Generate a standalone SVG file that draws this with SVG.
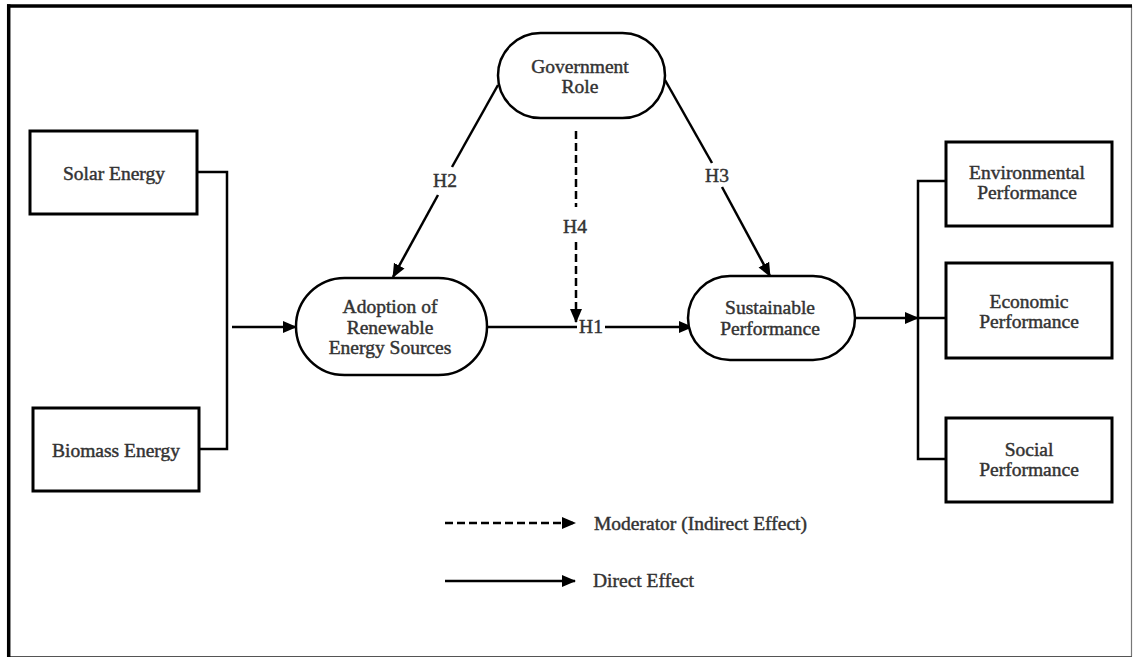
<svg xmlns="http://www.w3.org/2000/svg" width="1133" height="657" viewBox="0 0 1133 657">
  <style>
    .box { fill: #fff; stroke: #000; stroke-width: 3; }
    .pill { fill: #fff; stroke: #000; stroke-width: 2.5; }
    .ln { fill: none; stroke: #000; stroke-width: 2.5; }
    .dash { fill: none; stroke: #000; stroke-width: 2.5; stroke-dasharray: 8 4; }
    text { font-family: "Liberation Serif", "Times New Roman", serif; font-size: 19.5px; font-weight: normal; fill: #333; stroke: #333; stroke-width: 0.45; text-anchor: middle; }
    .lg { text-anchor: start; }
  </style>
  <defs>
    <marker id="ah" markerUnits="userSpaceOnUse" markerWidth="14" markerHeight="14" viewBox="0 0 14 14" refX="13" refY="7" orient="auto">
      <path d="M0,1 L14,7 L0,13 Z" fill="#000"/>
    </marker>
  </defs>

  <rect width="1133" height="657" fill="#fff"/>
  <!-- frame -->
  <g id="frame">
    <line x1="1131.5" y1="6" x2="1131.5" y2="656.5" stroke="#777" stroke-width="1.2"/>
    <line x1="7" y1="656.5" x2="1132" y2="656.5" stroke="#555" stroke-width="1.2"/>
    <line x1="7" y1="6" x2="1132" y2="6" stroke="#000" stroke-width="3.5"/>
    <line x1="8.7" y1="4.3" x2="8.7" y2="657" stroke="#000" stroke-width="3.5"/>
  </g>

  <g id="connectors">
    <!-- inputs bracket -->
    <polyline class="ln" points="197,172 227,172 227,449 199,449"/>
    <line class="ln" x1="232" y1="327" x2="296" y2="327" marker-end="url(#ah)"/>
    <!-- H2 -->
    <line class="ln" x1="498" y1="85" x2="452" y2="167"/>
    <line class="ln" x1="438" y1="195" x2="393" y2="277" marker-end="url(#ah)"/>
    <!-- H3 -->
    <line class="ln" x1="665" y1="80" x2="712" y2="163"/>
    <line class="ln" x1="722" y1="187" x2="770" y2="276" marker-end="url(#ah)"/>
    <!-- H4 -->
    <line class="dash" x1="576" y1="131" x2="576" y2="207"/>
    <line class="dash" x1="576" y1="242" x2="576" y2="322" marker-end="url(#ah)"/>
    <!-- H1 -->
    <line class="ln" x1="487" y1="327" x2="577" y2="327"/>
    <line class="ln" x1="605" y1="327" x2="692" y2="327" marker-end="url(#ah)"/>
    <!-- outputs -->
    <line class="ln" x1="855" y1="318" x2="918" y2="318" marker-end="url(#ah)"/>
    <polyline class="ln" points="946,181 918,181 918,459 946,459"/>
    <line class="ln" x1="918" y1="318" x2="946" y2="318"/>
  </g>

  <g id="labels">
    <text x="445" y="187">H2</text>
    <text x="717" y="182">H3</text>
    <text x="575" y="233">H4</text>
    <text x="591" y="333">H1</text>
  </g>

  <g id="solar">
    <rect class="box" x="30" y="131" width="167" height="83"/>
    <text x="114" y="180">Solar Energy</text>
  </g>
  <g id="biomass">
    <rect class="box" x="33" y="408" width="166" height="83"/>
    <text x="116" y="457">Biomass Energy</text>
  </g>
  <g id="government">
    <rect class="pill" x="498" y="33" width="167" height="85" rx="42.5"/>
    <text x="580" y="73">Government</text>
    <text x="580" y="93">Role</text>
  </g>
  <g id="adoption">
    <rect class="pill" x="296" y="278" width="191" height="97" rx="48.5"/>
    <text x="390" y="313">Adoption of</text>
    <text x="390" y="334">Renewable</text>
    <text x="390" y="354">Energy Sources</text>
  </g>
  <g id="sustainable">
    <rect class="pill" x="688" y="276" width="167" height="84" rx="42"/>
    <text x="770" y="314">Sustainable</text>
    <text x="770" y="335">Performance</text>
  </g>
  <g id="environmental">
    <rect class="box" x="946" y="142" width="166" height="84"/>
    <text x="1027" y="179">Environmental</text>
    <text x="1027" y="199">Performance</text>
  </g>
  <g id="economic">
    <rect class="box" x="946" y="263" width="166" height="95"/>
    <text x="1029" y="308">Economic</text>
    <text x="1029" y="328">Performance</text>
  </g>
  <g id="social">
    <rect class="box" x="946" y="418" width="166" height="84"/>
    <text x="1029" y="456">Social</text>
    <text x="1029" y="476">Performance</text>
  </g>

  <g id="legend">
    <line class="dash" x1="445" y1="523" x2="575" y2="523" marker-end="url(#ah)"/>
    <text class="lg" x="594" y="530">Moderator (Indirect Effect)</text>
    <line class="ln" x1="445" y1="581" x2="575" y2="581" marker-end="url(#ah)"/>
    <text class="lg" x="593" y="587">Direct Effect</text>
  </g>
</svg>
